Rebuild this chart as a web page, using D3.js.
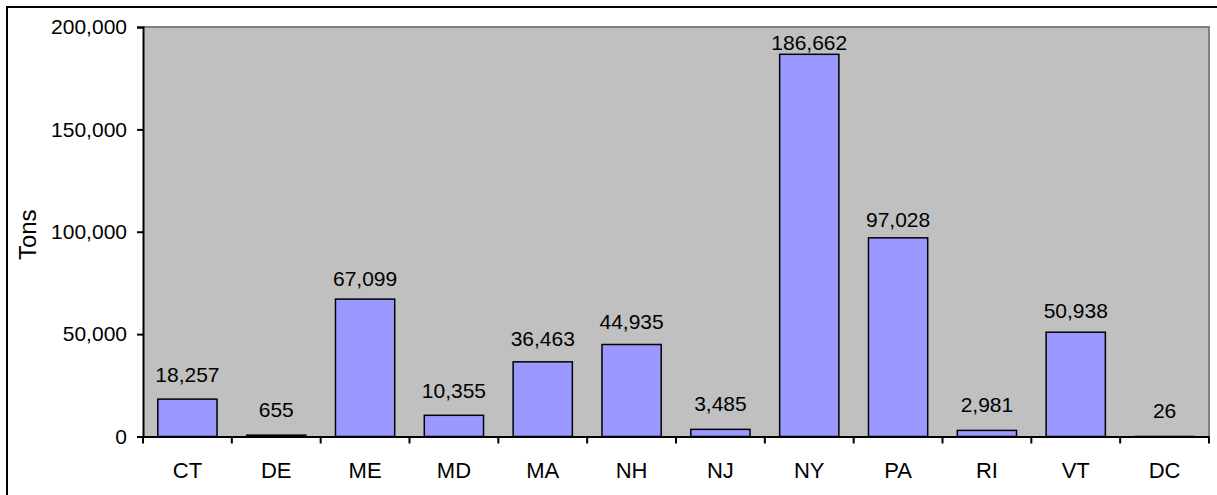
<!DOCTYPE html>
<html>
<head>
<meta charset="utf-8">
<script src="https://cdn.jsdelivr.net/npm/d3@7"></script>
<style>
  html, body { margin: 0; padding: 0; background: #fff; }
  svg { display: block; }
  text { font-family: Arial, "Liberation Sans", sans-serif; fill: #000; }
</style>
</head>
<body>
<script>
// Tons by state
const states = ["CT", "DE", "ME", "MD", "MA", "NH", "NJ", "NY", "PA", "RI", "VT", "DC"];
const tons = [18257, 655, 67099, 10355, 36463, 44935, 3485, 186662, 97028, 2981, 50938, 26];
const yTicks = [0, 50000, 100000, 150000, 200000];
const yTitle = "Tons";

const W = 1217, H = 495;
const plot = { left: 143, right: 1209, top: 27, bottom: 436.5 };
const FONT = "Arial, 'Liberation Sans', sans-serif";

const svg = d3.select("body").append("svg")
  .attr("width", W).attr("height", H);

// outer frame (right and bottom edges run past the page)
svg.append("rect")
  .attr("x", 7).attr("y", 7)
  .attr("width", 1230).attr("height", 500)
  .attr("fill", "none").attr("stroke", "#000").attr("stroke-width", 2);

const x = d3.scaleBand().domain(states)
  .range([plot.left, plot.right])
  .paddingInner(1 / 3).paddingOuter(1 / 6);
const band = d3.scaleBand().domain(states).range([plot.left, plot.right]);
const y = d3.scaleLinear().domain([0, 200000]).range([plot.bottom, plot.top]);
// baseline positions for the value labels above each bar
const yLabel = d3.scaleLinear().domain([0, 200000]).range([plot.bottom - 18.5, plot.top - 3]);

// plot area
svg.append("rect")
  .attr("x", plot.left).attr("y", plot.top)
  .attr("width", plot.right - plot.left).attr("height", plot.bottom - plot.top)
  .attr("fill", "#C0C0C0");
svg.append("path")
  .attr("d", `M${plot.left},${plot.top}H${plot.right}V${plot.bottom}`)
  .attr("fill", "none").attr("stroke", "#808080").attr("stroke-width", 2);

// bars
svg.append("g").selectAll("rect").data(tons).join("rect")
  .attr("x", (d, i) => x(states[i]))
  .attr("width", x.bandwidth())
  .attr("y", d => y(d))
  .attr("height", d => y(0) - y(d))
  .attr("fill", "#9999FF")
  .attr("stroke", "#000").attr("stroke-width", 1.5);

// value labels
const fmt = d3.format(",");
svg.append("g").selectAll("text").data(tons).join("text")
  .attr("x", (d, i) => x(states[i]) + x.bandwidth() / 2)
  .attr("y", d => yLabel(d))
  .attr("text-anchor", "middle")
  .style("font-size", "21px")
  .text(d => fmt(d));

// y axis
const yAxis = d3.axisLeft(y).tickValues(yTicks).tickFormat(fmt).tickSize(6).tickPadding(10);
const gy = svg.append("g").attr("transform", `translate(${plot.left},0)`).call(yAxis);
gy.select(".domain").attr("stroke", "#000").attr("stroke-width", 2);
gy.selectAll(".tick line").attr("stroke", "#000").attr("stroke-width", 2);
gy.selectAll(".tick text").style("font-size", "21px").style("font-family", FONT).attr("fill", "#000");

// x axis: ticks sit on the category boundaries
const xAxis = d3.axisBottom(band).tickSize(0).tickPadding(26);
const gx = svg.append("g").attr("transform", `translate(0,${plot.bottom})`).call(xAxis);
gx.select(".domain").attr("stroke", "#000").attr("stroke-width", 2);
gx.selectAll(".tick text").style("font-size", "22px").style("font-family", FONT).attr("fill", "#000");
const bounds = states.map(s => band(s)).concat([plot.right]);
svg.append("g").selectAll("line").data(bounds).join("line")
  .attr("x1", d => d).attr("x2", d => d)
  .attr("y1", plot.bottom).attr("y2", plot.bottom + 7)
  .attr("stroke", "#000").attr("stroke-width", 2);

// axis title
svg.append("text")
  .attr("transform", `translate(36,${(plot.top + plot.bottom) / 2 + 3}) rotate(-90)`)
  .attr("text-anchor", "middle")
  .style("font-size", "24px")
  .text(yTitle);
</script>
</body>
</html>
